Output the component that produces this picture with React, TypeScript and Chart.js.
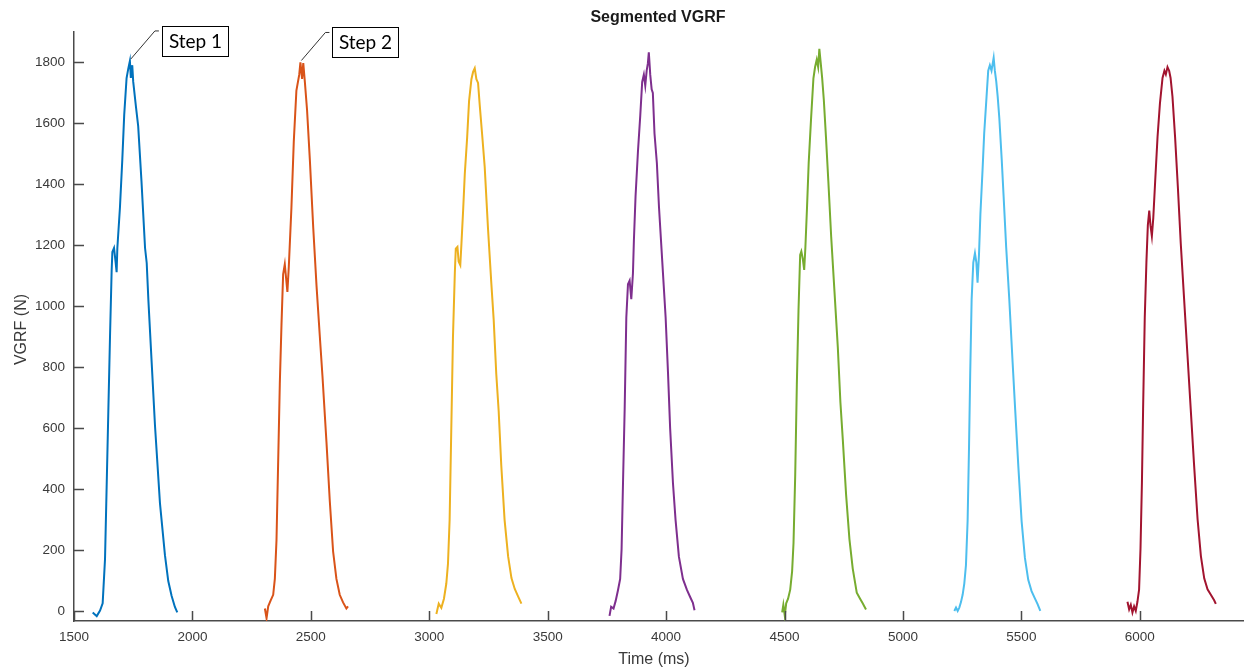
import React, { useEffect, useRef } from 'react';
import { Chart, registerables } from 'chart.js';

Chart.register(...registerables);

// ---- Data: [time (ms), VGRF (N)] samples ----
const step1: [number, number][] = [
  [1579, -5], [1596, -17], [1610, 1], [1621, 25], [1631, 171], [1638, 414], [1645, 657], [1652, 899],
  [1659, 1118], [1662, 1178], [1669, 1191], [1676, 1142], [1680, 1112], [1683, 1191], [1694, 1324],
  [1704, 1482], [1712, 1628], [1722, 1749], [1729, 1779], [1736, 1805], [1740, 1749], [1746, 1791],
  [1750, 1737], [1762, 1652], [1771, 1591], [1785, 1409], [1800, 1191], [1807, 1142], [1814, 1021],
  [1828, 814], [1842, 608], [1863, 353], [1884, 183], [1898, 98], [1912, 50], [1926, 13], [1936, -5],
];
const step2: [number, number][] = [
  [2306, 8], [2313, -24], [2320, 15], [2330, 34], [2341, 53], [2348, 105], [2355, 233], [2362, 489],
  [2369, 746], [2376, 938], [2383, 1105], [2390, 1138], [2397, 1080], [2401, 1047], [2407, 1131],
  [2418, 1323], [2428, 1541], [2439, 1708], [2451, 1760], [2456, 1800], [2463, 1746], [2468, 1798],
  [2475, 1734], [2484, 1644], [2496, 1478], [2510, 1259], [2524, 1067], [2538, 900], [2549, 772],
  [2566, 554], [2580, 361], [2594, 195], [2608, 105], [2622, 53], [2636, 28], [2650, 8], [2657, 15],
];
const step3: [number, number][] = [
  [3030, -10], [3040, 24], [3051, 10], [3062, 40], [3072, 90], [3079, 155], [3086, 299], [3093, 598],
  [3100, 896], [3108, 1111], [3112, 1189], [3119, 1195], [3124, 1147], [3131, 1135], [3136, 1207],
  [3143, 1315], [3150, 1434], [3160, 1554], [3168, 1673], [3178, 1745], [3185, 1769], [3192, 1781],
  [3199, 1745], [3206, 1733], [3213, 1661], [3223, 1566], [3234, 1458], [3248, 1255], [3262, 1076],
  [3272, 956], [3283, 777], [3293, 657], [3304, 478], [3318, 299], [3333, 179], [3347, 108],
  [3361, 72], [3375, 48], [3389, 24],
];
const step4: [number, number][] = [
  [3761, -16], [3768, 14], [3778, 8], [3787, 33], [3797, 69], [3806, 105], [3812, 202], [3818, 419],
  [3825, 661], [3832, 963], [3839, 1072], [3846, 1084], [3853, 1023], [3860, 1108], [3864, 1216],
  [3871, 1361], [3881, 1506], [3891, 1627], [3899, 1736], [3906, 1760], [3912, 1724], [3918, 1773],
  [3923, 1797], [3927, 1833], [3933, 1760], [3939, 1712], [3944, 1700], [3951, 1567], [3961, 1470],
  [3970, 1325], [3984, 1144], [3998, 963], [4008, 782], [4017, 600], [4029, 419], [4040, 298],
  [4054, 178], [4071, 105], [4088, 69], [4102, 45], [4113, 27], [4120, 2],
];
const step5: [number, number][] = [
  [4490, -5], [4495, 20], [4501, -15], [4507, 25], [4515, 40], [4524, 70], [4532, 130], [4538, 224],
  [4545, 442], [4552, 744], [4559, 986], [4566, 1168], [4571, 1180], [4577, 1156], [4583, 1119],
  [4588, 1192], [4595, 1325], [4602, 1470], [4612, 1615], [4622, 1748], [4629, 1785], [4636, 1809],
  [4642, 1785], [4647, 1845], [4653, 1797], [4659, 1748], [4666, 1676], [4675, 1555], [4685, 1410],
  [4697, 1228], [4711, 1047], [4725, 865], [4736, 684], [4746, 563], [4760, 381], [4774, 236],
  [4788, 139], [4805, 60], [4819, 40], [4830, 25], [4844, 5],
];
const step6: [number, number][] = [
  [5217, 0], [5224, 11], [5231, 0], [5238, 11], [5245, 29], [5252, 53], [5259, 90], [5266, 150],
  [5273, 295], [5279, 538], [5284, 780], [5290, 1022], [5297, 1143], [5304, 1174], [5310, 1143],
  [5315, 1077], [5321, 1168], [5327, 1302], [5336, 1446], [5343, 1567], [5353, 1688], [5360, 1773],
  [5367, 1791], [5374, 1773], [5383, 1815], [5388, 1773], [5394, 1737], [5400, 1688], [5407, 1616],
  [5417, 1482], [5425, 1361], [5436, 1192], [5449, 1022], [5463, 816], [5474, 659], [5487, 477],
  [5501, 295], [5515, 174], [5529, 102], [5543, 65], [5557, 41], [5568, 23], [5580, 0],
];
const step7: [number, number][] = [
  [5948, 30], [5955, 5], [5962, 20], [5969, -5], [5976, 15], [5983, 0], [5990, 30], [5997, 70],
  [6003, 204], [6009, 421], [6014, 663], [6021, 964], [6028, 1145], [6034, 1266], [6040, 1314],
  [6045, 1266], [6051, 1230], [6057, 1290], [6065, 1411], [6075, 1556], [6085, 1665], [6096, 1749],
  [6104, 1773], [6110, 1761], [6117, 1785], [6124, 1773], [6130, 1749], [6138, 1688], [6149, 1556],
  [6161, 1387], [6173, 1206], [6187, 1025], [6201, 844], [6215, 663], [6229, 482], [6244, 301],
  [6258, 180], [6272, 107], [6286, 71], [6300, 53], [6314, 35], [6321, 23],
];

const steps = [step1, step2, step3, step4, step5, step6, step7];
const stepColors = ['#0072BD', '#D95319', '#EDB120', '#7E2F8E', '#77AC30', '#4DBEEE', '#A2142F'];

const xTicks = [1500, 2000, 2500, 3000, 3500, 4000, 4500, 5000, 5500, 6000];
const yTicks = [0, 200, 400, 600, 800, 1000, 1200, 1400, 1600, 1800];
const xRange = [1500, 6440];
const yRange = [-33, 1900];

const chartTitle = 'Segmented VGRF';
const xTitle = 'Time (ms)';
const yTitle = 'VGRF (N)';
const annotationLabels = ['Step 1', 'Step 2'];
const annotationSteps = [0, 1];

const AXIS_COLOR = '#4a4a4a';
const TEXT_COLOR = '#3a3a3a';
const FONT = '"Liberation Sans", Arial, Helvetica, sans-serif';

const decorPlugin = {
  id: 'decor',
  afterDraw(chart: any) {
    const { ctx, chartArea } = chart;
    const xs = chart.scales.x;
    const ys = chart.scales.y;
    ctx.save();
    // inward tick marks
    ctx.strokeStyle = AXIS_COLOR;
    ctx.lineWidth = 1.5;
    ctx.beginPath();
    xTicks.forEach((v) => {
      const px = Math.round(xs.getPixelForValue(v)) + 0.5;
      ctx.moveTo(px, chartArea.bottom);
      ctx.lineTo(px, chartArea.bottom - 10);
    });
    yTicks.forEach((v) => {
      const py = Math.round(ys.getPixelForValue(v)) + 0.5;
      ctx.moveTo(chartArea.left, py);
      ctx.lineTo(chartArea.left + 10, py);
    });
    ctx.stroke();

    // title and axis titles
    ctx.fillStyle = '#1a1a1a';
    ctx.textAlign = 'center';
    ctx.textBaseline = 'middle';
    ctx.font = `bold 16px ${FONT}`;
    ctx.fillText(chartTitle, (chartArea.left + chartArea.right) / 2 - 1, 18);
    ctx.fillStyle = TEXT_COLOR;
    ctx.font = `16px ${FONT}`;
    ctx.fillText(xTitle, (chartArea.left + chartArea.right) / 2 - 5, 660);
    ctx.save();
    ctx.translate(22, (chartArea.top + chartArea.bottom) / 2 + 3);
    ctx.rotate(-Math.PI / 2);
    ctx.fillText(yTitle, 0, 0);
    ctx.restore();

    // step annotations
    annotationSteps.forEach((si, i) => {
      const data = steps[si];
      let best = data[0];
      data.forEach((p) => { if (p[1] > best[1]) best = p; });
      const ax = xs.getPixelForValue(best[0]);
      const ay = ys.getPixelForValue(best[1]);
      ctx.strokeStyle = '#333333';
      ctx.lineWidth = 1;
      ctx.beginPath();
      ctx.moveTo(ax + 1, ay - 2);
      ctx.lineTo(ax + 25, ay - 30);
      ctx.lineTo(ax + 29, ay - 30);
      ctx.stroke();
      const bx = Math.round(ax + 32) + 0.5;
      const by = Math.round(ay - 35) + 0.5;
      ctx.fillStyle = '#ffffff';
      ctx.fillRect(bx, by, 66, 30);
      ctx.strokeStyle = '#000000';
      ctx.strokeRect(bx, by, 66, 30);
      ctx.fillStyle = '#000000';
      ctx.font = `19px Lato, "Open Sans", sans-serif`;
      ctx.textAlign = 'center';
      ctx.textBaseline = 'middle';
      ctx.fillText(annotationLabels[i], bx + 33, by + 15);
    });
    ctx.restore();
  },
};

export default function App() {
  const canvasRef = useRef<HTMLCanvasElement | null>(null);

  useEffect(() => {
    const canvas = canvasRef.current;
    if (!canvas) return;
    const chart = new Chart(canvas, {
      type: 'line',
      data: {
        datasets: steps.map((s, i) => ({
          label: `Step ${i + 1}`,
          data: s.map(([x, y]) => ({ x, y })),
          borderColor: stepColors[i],
          backgroundColor: stepColors[i],
          borderWidth: 2,
          pointRadius: 0,
          tension: 0,
          fill: false,
        })),
      },
      options: {
        animation: false,
        responsive: false,
        devicePixelRatio: 1,
        layout: { padding: { top: 32, right: 0, left: 0, bottom: 0 } },
        plugins: {
          legend: { display: false },
          tooltip: { enabled: false },
          title: { display: false },
        },
        scales: {
          x: {
            type: 'linear',
            min: xRange[0],
            max: xRange[1],
            grid: { display: false, drawTicks: false },
            border: { display: true, color: AXIS_COLOR, width: 1.5 },
            ticks: {
              color: TEXT_COLOR,
              font: { family: FONT, size: 13.5 },
              padding: 8,
              maxRotation: 0,
              autoSkip: false,
              callback: (v: any) => String(v),
            },
            afterBuildTicks: (scale: any) => {
              scale.ticks = xTicks.map((v) => ({ value: v }));
            },
            afterFit: (scale: any) => {
              scale.height = 48;
            },
          },
          y: {
            type: 'linear',
            min: yRange[0],
            max: yRange[1],
            grid: { display: false, drawTicks: false },
            border: { display: true, color: AXIS_COLOR, width: 1.5 },
            ticks: {
              color: TEXT_COLOR,
              font: { family: FONT, size: 13.5 },
              padding: 9,
              autoSkip: false,
              callback: (v: any) => String(v),
            },
            afterBuildTicks: (scale: any) => {
              scale.ticks = yTicks.map((v) => ({ value: v }));
            },
            afterFit: (scale: any) => {
              scale.width = 74;
            },
          },
        },
      },
      plugins: [decorPlugin],
    });
    return () => chart.destroy();
  }, []);

  return (
    <div style={{ position: 'absolute', left: 0, top: 0, width: 1244, height: 669, background: '#ffffff' }}>
      <canvas ref={canvasRef} width={1244} height={669} />
    </div>
  );
}
